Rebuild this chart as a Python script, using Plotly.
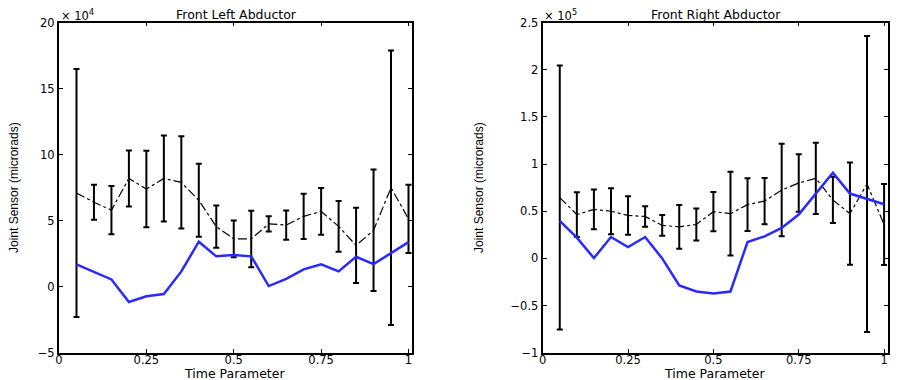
import plotly.graph_objects as go

# Time parameter samples
t = [0.05, 0.10, 0.15, 0.20, 0.25, 0.30, 0.35, 0.40, 0.45, 0.50,
     0.55, 0.60, 0.65, 0.70, 0.75, 0.80, 0.85, 0.90, 0.95, 1.00]

# Front Left Abductor (units of 1e4 microrads)
left_mean = [7.1, 6.4, 5.8, 8.2, 7.4, 8.2, 7.9, 6.55, 4.55, 3.63,
             3.62, 4.76, 4.67, 5.33, 5.7, 4.57, 3.13, 4.27, 7.5, 5.14]
left_err = [9.4, 1.33, 1.82, 2.12, 2.89, 3.26, 3.5, 2.77, 1.6, 1.39,
            2.14, 0.57, 1.11, 1.72, 1.77, 1.92, 2.85, 4.6, 10.4, 2.59]
left_blue = [1.69, 1.12, 0.55, -1.16, -0.73, -0.56, 1.16, 3.41, 2.30, 2.4,
             2.3, 0.05, 0.6, 1.31, 1.69, 1.16, 2.27, 1.71, 2.52, 3.38]

# Front Right Abductor (units of 1e5 microrads)
right_mean = [0.645, 0.465, 0.52, 0.50, 0.456, 0.445, 0.35, 0.335, 0.36, 0.496,
              0.475, 0.57, 0.608, 0.725, 0.80, 0.85, 0.62, 0.475, 0.79, 0.36]
right_err = [1.40, 0.237, 0.21, 0.245, 0.204, 0.108, 0.11, 0.232, 0.17, 0.209,
             0.443, 0.28, 0.246, 0.491, 0.305, 0.378, 0.245, 0.543, 1.57, 0.43]
right_blue = [0.397, 0.22, 0.003, 0.227, 0.12, 0.227, 0.0, -0.287, -0.351, -0.372,
              -0.351, 0.174, 0.234, 0.323, 0.465, 0.688, 0.91, 0.688, 0.635, 0.574]

x_tickvals = [0, 0.25, 0.5, 0.75, 1]
x_ticktext = ["0", "0.25", "0.5", "0.75", "1"]
left_yticks = [-5, 0, 5, 10, 15, 20]
right_yticks = [-1, -0.5, 0, 0.5, 1, 1.5, 2, 2.5]
right_yticktext = ["\u22121", "\u22120.5", "0", "0.5", "1", "1.5", "2", "2.5"]

W, H = 898, 380
OFF = 8  # page body margin offset
BLUE = "#2a2aff"
TICKFONT = dict(family="DejaVu Sans", size=11.5, color="black")


def px(xp):
    return (xp - OFF) / W


def py(yp):
    return 1 - (yp - OFF) / H


fig = go.Figure()

for xa, ya, mean, err, blue in [("x", "y", left_mean, left_err, left_blue),
                                 ("x2", "y2", right_mean, right_err, right_blue)]:
    fig.add_trace(go.Scatter(
        x=t, y=mean, xaxis=xa, yaxis=ya, mode="lines",
        line=dict(color="black", width=1.2, dash="dashdot"),
        error_y=dict(type="data", array=err, visible=True,
                     color="black", thickness=2, width=3),
        showlegend=False, hoverinfo="skip"))
    fig.add_trace(go.Scatter(
        x=t, y=blue, xaxis=xa, yaxis=ya, mode="lines",
        line=dict(color=BLUE, width=2.5),
        showlegend=False, hoverinfo="skip"))

ydom = [py(352.7), py(22.7)]
xdom1 = [px(59), px(412)]
xdom2 = [px(542.7), px(887.5)]

common_x = dict(range=[0, 1.01], tickvals=x_tickvals, ticktext=x_ticktext,
                ticks="inside", ticklen=4, tickcolor="black",
                showline=True, linecolor="black", linewidth=1.5, mirror="ticks",
                showgrid=False, zeroline=False, tickfont=TICKFONT,
                ticklabelstandoff=-4, ticklabeloverflow="allow", automargin=False)
common_y = dict(ticks="inside", ticklen=4, tickcolor="black",
                showline=True, linecolor="black", linewidth=2, mirror="ticks",
                showgrid=False, zeroline=False, tickfont=TICKFONT, domain=ydom,
                automargin=False)

fig.update_layout(
    width=W, height=H,
    margin=dict(l=0, r=0, t=0, b=0, pad=0, autoexpand=False),
    paper_bgcolor="white", plot_bgcolor="white",
    xaxis=dict(domain=xdom1, anchor="y", **common_x),
    yaxis=dict(anchor="x", range=[-5, 20], tickvals=left_yticks, **common_y),
    xaxis2=dict(domain=xdom2, anchor="y2", **common_x),
    yaxis2=dict(anchor="x2", range=[-1, 2.5], tickvals=right_yticks,
                ticktext=right_yticktext, **common_y),
)

annots = [
    dict(text="Front Left Abductor", x=px(236), y=py(15), size=12.5),
    dict(text="Front Right Abductor", x=px(716), y=py(15), size=12.5),
    dict(text="Time Parameter", x=px(234), y=py(373), size=12.5),
    dict(text="Time Parameter", x=px(714), y=py(373), size=12.5),
]
for a in annots:
    fig.add_annotation(text=a["text"], x=a["x"], y=a["y"], xref="paper", yref="paper",
                       showarrow=False, xanchor="center", yanchor="middle",
                       font=dict(family="DejaVu Sans", size=a["size"], color="black"))

for xp, txt in [(14, "Joint Sensor (microrads)"), (479, "Joint Sensor (microrads)")]:
    fig.add_annotation(text=txt, x=px(xp), y=py(188), xref="paper", yref="paper",
                       showarrow=False, textangle=-90, xanchor="center", yanchor="middle",
                       font=dict(family="Liberation Sans", size=12, color="black"))

for xp, txt in [(59, "\u00d7 10<sup>4</sup>"), (542, "\u00d7 10<sup>5</sup>")]:
    fig.add_annotation(text=txt, x=px(xp), y=py(16), xref="paper", yref="paper",
                       showarrow=False, xanchor="left", yanchor="middle",
                       font=dict(family="DejaVu Sans", size=11.5, color="black"))

fig.write_html("out.html")
